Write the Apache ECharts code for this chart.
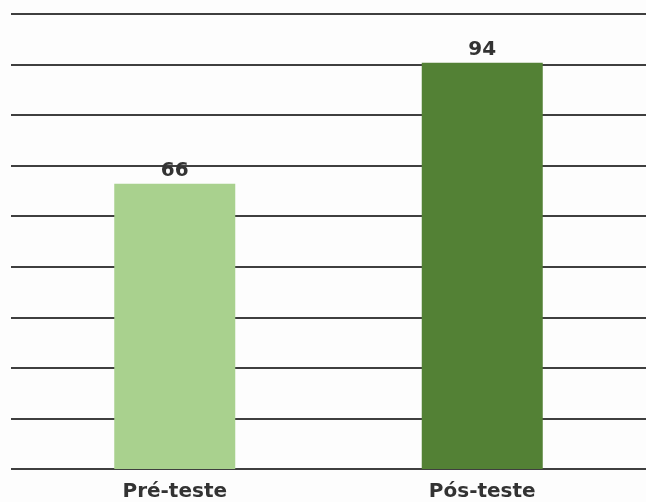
<!DOCTYPE html>
<html>
<head>
<meta charset="utf-8">
<script src="https://cdn.jsdelivr.net/npm/echarts@6/dist/echarts.min.js"></script>
<style>
  html, body { margin: 0; padding: 0; background: #fdfdfd; }
  #chart { width: 646px; height: 502px; }
</style>
</head>
<body>
<div id="chart"></div>
<script>
// Test scores before and after
const categories = ['Pré-teste', 'Pós-teste'];
const scores = [66, 94];
const barColors = ['#a9d18e', '#538135'];

// Value scale shared by the grid lines and the bars
const axisMax = 105.3;
const axisInterval = axisMax / 9;

const chart = echarts.init(document.getElementById('chart'), null, { renderer: 'canvas' });

const labelFont = '"DejaVu Sans", "Liberation Sans", sans-serif';

chart.setOption({
  backgroundColor: '#fdfdfd',
  animation: false,
  grid: [
    // wide grid carrying the horizontal rules
    { left: 11, right: 0, top: 14, bottom: 33, containLabel: false },
    // inner grid carrying the bars
    { left: 21, right: 10, top: 14, bottom: 33, containLabel: false }
  ],
  xAxis: [
    { type: 'category', gridIndex: 0, data: categories, show: false },
    {
      type: 'category', gridIndex: 1, data: categories,
      axisLine: { show: false }, axisTick: { show: false },
      axisLabel: {
        color: '#333', fontSize: 20, fontWeight: 'bold',
        fontFamily: labelFont, margin: 13
      }
    }
  ],
  yAxis: [
    {
      type: 'value', gridIndex: 0, min: 0, max: axisMax, interval: axisInterval,
      axisLine: { show: false }, axisTick: { show: false }, axisLabel: { show: false },
      splitLine: { show: true, lineStyle: { color: '#3f3f3f', width: 2 } }
    },
    {
      type: 'value', gridIndex: 1, min: 0, max: axisMax, interval: axisInterval,
      show: false, splitLine: { show: false }
    }
  ],
  series: [
    {
      type: 'bar', xAxisIndex: 1, yAxisIndex: 1,
      barWidth: 121,
      data: scores.map((v, i) => ({ value: v, itemStyle: { color: barColors[i] } })),
      label: {
        show: true, position: 'top', distance: 3,
        color: '#333', fontSize: 20, fontWeight: 'bold', fontFamily: labelFont
      },
      z: 3
    }
  ]
});
</script>
</body>
</html>
